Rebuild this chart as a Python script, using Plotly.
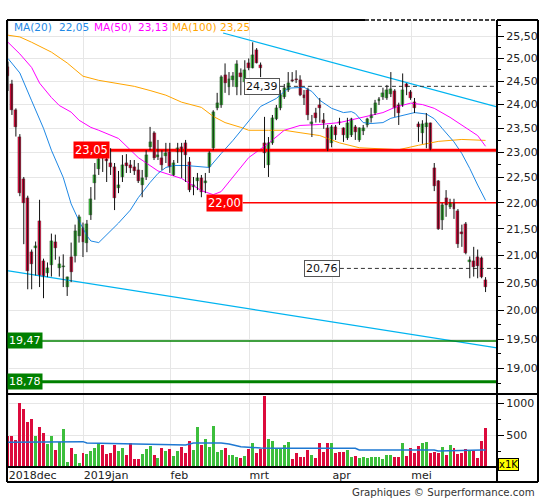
import math
import plotly.graph_objects as go

# ---------------- data ----------------
month_labels = ["2018dec", "2019jan", "feb", "mrt", "apr", "mei"]
month_first_idx = [1, 20, 42, 62, 83, 103]

opens = [24.82, 24.44, 23.88, 23.33, 22.47, 22.10, 21.06, 21.13, 21.65, 20.90,
         20.68, 20.83, 21.25, 20.76, 20.78, 20.42, 20.98, 20.99, 21.36, 21.52,
         21.24, 21.77, 22.39, 22.67, 22.95, 22.86, 22.79, 22.71, 22.29, 22.51,
         22.79, 22.75, 22.71, 22.65, 22.35, 22.51, 23.12, 23.40, 22.91, 22.89,
         22.93, 23.01, 22.55, 23.01, 23.11, 23.20, 22.81, 22.31, 22.43, 22.49,
         22.39, 22.71, 23.09, 23.93, 23.99, 24.63, 24.38, 24.53, 24.38, 24.67,
         24.48, 24.91, 24.80, 25.19, 24.85, 23.20, 22.75, 23.20, 23.69, 23.93,
         24.16, 24.31, 24.53, 24.54, 24.53, 24.20, 24.31, 23.60, 23.82, 23.99,
         23.67, 23.50, 23.20, 23.52, 23.64, 23.50, 23.30, 23.36, 23.52, 23.26,
         23.44, 23.57, 23.72, 23.82, 24.08, 24.16, 24.14, 24.22, 24.29, 23.99,
         23.99, 24.44, 24.27, 24.06, 23.59, 23.40, 23.52, 23.61, 22.69, 22.43,
         21.67, 22.10, 21.92, 22.00, 21.84, 21.43, 21.60, 20.87, 20.90, 20.98,
         20.96, 20.54]
highs = [24.93, 24.53, 23.92, 23.38, 22.51, 22.14, 21.11, 21.26, 22.06, 20.94,
         20.87, 21.41, 21.39, 20.98, 21.02, 20.61, 21.24, 21.58, 21.77, 21.62,
         21.67, 22.31, 22.79, 22.97, 23.16, 23.01, 23.09, 22.79, 22.63, 22.95,
         22.97, 22.85, 22.85, 22.79, 22.65, 23.05, 23.53, 23.44, 23.26, 23.05,
         23.20, 23.20, 22.85, 23.20, 23.20, 23.26, 22.91, 22.51, 22.59, 22.55,
         22.59, 23.03, 23.88, 24.25, 24.63, 24.89, 24.70, 24.70, 24.96, 24.78,
         24.96, 25.00, 25.36, 25.23, 24.91, 23.74, 23.32, 23.78, 23.99, 24.31,
         24.44, 24.70, 24.70, 24.74, 24.63, 24.31, 24.36, 23.78, 23.93, 24.14,
         23.82, 23.57, 23.57, 23.57, 23.72, 23.52, 23.72, 23.72, 23.57, 23.52,
         23.57, 23.72, 23.93, 24.10, 24.16, 24.36, 24.42, 24.70, 24.33, 24.04,
         24.67, 24.46, 24.31, 24.14, 23.64, 23.67, 23.82, 23.62, 22.79, 22.45,
         22.00, 22.25, 22.08, 22.08, 21.88, 21.58, 21.63, 20.98, 21.16, 21.11,
         20.98, 20.60]
lows = [24.29, 23.78, 23.33, 22.13, 21.21, 20.38, 20.38, 20.63, 20.42, 20.22,
        20.60, 20.61, 20.92, 20.61, 20.42, 20.26, 20.51, 20.87, 21.24, 20.97,
        21.06, 21.67, 22.06, 22.55, 22.61, 22.41, 22.55, 21.86, 22.19, 22.41,
        22.59, 22.59, 22.55, 22.39, 22.11, 22.45, 23.05, 22.85, 22.85, 22.65,
        22.79, 22.59, 22.53, 22.79, 22.49, 22.41, 22.21, 22.15, 22.25, 22.11,
        22.19, 22.59, 23.05, 23.88, 23.93, 24.25, 24.20, 24.38, 24.20, 24.20,
        24.25, 24.74, 24.78, 24.89, 24.59, 22.69, 22.51, 23.16, 23.67, 23.88,
        24.12, 24.27, 24.48, 24.46, 24.18, 23.99, 23.67, 23.32, 23.62, 23.62,
        23.49, 23.03, 23.11, 23.26, 23.57, 23.22, 23.26, 23.32, 23.26, 23.22,
        23.36, 23.52, 23.62, 23.78, 23.99, 24.10, 24.10, 24.16, 23.74, 23.57,
        23.95, 24.20, 24.10, 23.82, 23.22, 23.18, 23.09, 23.05, 22.23, 21.48,
        21.48, 21.73, 21.88, 21.69, 21.14, 21.16, 21.02, 20.58, 20.61, 20.58,
        20.58, 20.33]
closes = [24.62, 23.88, 23.52, 22.19, 22.00, 20.72, 20.85, 21.17, 20.63, 20.61,
          20.76, 21.27, 21.13, 20.85, 20.81, 20.60, 20.69, 21.46, 21.73, 21.25,
          21.60, 22.08, 22.55, 22.87, 22.89, 22.84, 22.71, 22.10, 22.35, 22.75,
          22.73, 22.69, 22.63, 22.43, 22.49, 22.95, 23.22, 22.89, 22.95, 22.75,
          22.99, 22.71, 22.79, 23.09, 23.01, 22.95, 22.25, 22.35, 22.49, 22.21,
          22.43, 22.99, 23.84, 24.04, 24.59, 24.46, 24.55, 24.61, 24.87, 24.59,
          24.74, 24.80, 25.07, 24.91, 24.80, 22.99, 23.20, 23.72, 23.93, 24.20,
          24.36, 24.46, 24.51, 24.52, 24.20, 24.14, 23.78, 23.64, 23.72, 23.93,
          23.62, 23.05, 23.52, 23.36, 23.61, 23.36, 23.62, 23.69, 23.42, 23.50,
          23.50, 23.69, 23.78, 24.04, 24.12, 24.25, 24.31, 24.33, 23.93, 23.82,
          24.31, 24.38, 24.14, 23.93, 23.52, 23.59, 23.62, 23.07, 22.33, 21.50,
          21.96, 21.96, 22.00, 21.88, 21.22, 21.41, 21.04, 20.92, 20.78, 20.80,
          20.61, 20.42]
volumes_k = [484, 484, 422, 1005, 906, 703, 750, 484, 625, 531,
             359, 484, 266, 396, 594, 78, 297, 203, 63, 219,
             203, 250, 297, 375, 344, 203, 219, 344, 250, 297,
             188, 375, 125, 125, 203, 281, 328, 188, 141, 297,
             250, 281, 172, 250, 313, 219, 406, 266, 625, 344,
             438, 313, 641, 234, 266, 297, 188, 188, 156, 141,
             172, 281, 375, 219, 281, 1109, 438, 406, 297, 297,
             344, 391, 125, 219, 156, 156, 266, 188, 141, 375,
             234, 375, 375, 219, 234, 234, 266, 156, 172, 141,
             156, 141, 156, 156, 156, 125, 188, 188, 156, 156,
             375, 172, 297, 219, 328, 375, 391, 219, 234, 219,
             313, 188, 344, 297, 203, 219, 281, 250, 250, 141,
             406, 609]

ma20_idx = [0, 3, 6, 9, 11, 14, 16, 18, 20, 21, 23, 24, 26, 28, 31, 33, 36, 38, 40, 42,
            45, 49, 51, 54, 57, 60, 64, 68, 71, 75, 77, 79, 82, 85, 87, 88, 90, 92, 95, 97,
            100, 103, 106, 108, 110, 113, 115, 117, 119, 121]
ma20_val = [25.00, 24.68, 24.08, 23.50, 23.05, 22.50, 21.98, 21.65, 21.37, 21.27,
            21.24, 21.31, 21.46, 21.61, 21.86, 22.10, 22.40, 22.58, 22.70, 22.74,
            22.74, 22.72, 22.70, 22.98, 23.25, 23.55, 23.96, 24.13, 24.35, 24.37,
            24.28, 24.09, 23.92, 23.83, 23.85, 23.81, 23.62, 23.60, 23.62, 23.71,
            23.77, 23.83, 23.80, 23.70, 23.50, 23.22, 22.98, 22.68, 22.35, 22.05]
ma50_idx = [0, 3, 6, 8, 11, 13, 16, 18, 21, 23, 28, 33, 38, 44, 49, 52, 54, 57, 61, 66,
            70, 74, 79, 84, 90, 95, 98, 102, 105, 108, 112, 116, 119, 121]
ma50_val = [25.36, 25.10, 24.80, 24.46, 24.15, 23.98, 23.84, 23.67, 23.52, 23.46,
            23.29, 22.90, 22.63, 22.48, 22.24, 22.16, 22.22, 22.50, 22.90, 23.19,
            23.46, 23.56, 23.58, 23.62, 23.73, 23.83, 23.94, 24.03, 24.00, 23.92,
            23.73, 23.52, 23.35, 23.13]
ma100_idx = [0, 3, 6, 11, 15, 19, 23, 32, 36, 40, 44, 49, 52, 55, 59, 61, 66, 70, 74, 79,
             84, 89, 94, 99, 104, 109, 115, 119, 121]
ma100_val = [25.52, 25.48, 25.36, 25.14, 24.90, 24.61, 24.52, 24.39, 24.30, 24.20,
             24.05, 23.94, 23.75, 23.62, 23.52, 23.46, 23.46, 23.46, 23.41, 23.35,
             23.20, 23.10, 23.08, 23.06, 23.15, 23.23, 23.27, 23.25, 23.25]
volma_idx = [0, 19, 20, 30, 45, 47, 54, 56, 59, 64, 69, 88, 89, 108, 109, 120, 121]
volma_val = [386, 396, 375, 359, 344, 375, 375, 359, 318, 297, 292, 292, 266, 266, 250, 266, 266]

trend_hi_idx = [54.5, 123.9]
trend_hi_val = [25.57, 23.95]
trend_lo_idx = [-0.25, 123.9]
trend_lo_val = [20.72, 19.35]

# horizontal levels: (value, start index, colour, width, dash, label style)
levels = [
    (23.05, 25.8, "#ff0000", 3, "solid", "red"),
    (22.00, 59.5, "#ff0000", 1.5, "solid", "red"),
    (24.39, 68.9, "#333333", 1, "dash", "box"),
    (20.76, 84.1, "#333333", 1, "dash", "box"),
    (19.47, 7.1, "#008000", 1.5, "solid", "green"),
    (18.78, 7.1, "#008000", 3, "solid", "green"),
]

price_ticks = [19.0, 19.5, 20.0, 20.5, 21.0, 21.5, 22.0, 22.5, 23.0, 23.5, 24.0, 24.5, 25.0, 25.5]
price_minor = [18.75, 19.25, 19.75, 20.25, 20.75, 21.25, 21.75, 22.25, 22.75, 23.25,
               23.75, 24.25, 24.75, 25.25, 25.75]
vol_ticks = [500, 1000]
vol_minor = [250, 750]

legend_items = [("MA(20)", "#1e88e5"), ("22,05", "#1e88e5"), ("MA(50)", "#ff00ff"),
                ("23,13", "#ff00ff"), ("MA(100)", "#ffa500"), ("23,25", "#ffa500")]
legend_px = [12, 57, 92, 136, 170, 218]

# ---------------- figure ----------------
RED = "#dc0a3c"
GREEN = "#3cbe3c"
X_MAX = 123.9
n = len(opens)
x_idx = list(range(n))

def comma(v):
    return f"{v:.2f}".replace(".", ",")

fig = go.Figure()

# trend lines
for xs, ys in [(trend_hi_idx, trend_hi_val), (trend_lo_idx, trend_lo_val)]:
    fig.add_trace(go.Scatter(x=xs, y=ys, mode="lines", line=dict(color="#00b4f0", width=1.2),
                             hoverinfo="skip", xaxis="x", yaxis="y"))

# moving averages
for xs, ys, col in [(ma100_idx, ma100_val, "#ffa500"), (ma50_idx, ma50_val, "#ff00ff"),
                    (ma20_idx, ma20_val, "#1e88e5")]:
    fig.add_trace(go.Scatter(x=xs, y=ys, mode="lines", line=dict(color=col, width=1),
                             hoverinfo="skip", xaxis="x", yaxis="y"))

# level lines
for val, start, col, w, dash, style in levels:
    fig.add_trace(go.Scatter(x=[start, X_MAX], y=[val, val], mode="lines",
                             line=dict(color=col, width=w, dash="4px,3px" if dash == "dash" else "solid"),
                             hoverinfo="skip", xaxis="x", yaxis="y"))

# candle wicks
wx, wy = [], []
for i in x_idx:
    wx += [i, i, None]
    wy += [lows[i], highs[i], None]
fig.add_trace(go.Scatter(x=wx, y=wy, mode="lines", line=dict(color="#111111", width=1),
                         hoverinfo="skip", xaxis="x", yaxis="y"))

# candle bodies
body_base = [min(o, c) for o, c in zip(opens, closes)]
body_len = [max(abs(c - o), 0.025) for o, c in zip(opens, closes)]
candle_colors = [GREEN if c >= o else RED for o, c in zip(opens, closes)]
fig.add_trace(go.Bar(x=x_idx, y=body_len, base=body_base, width=0.75,
                     marker=dict(color=candle_colors, line=dict(color="#333333", width=0.3)),
                     hoverinfo="skip", xaxis="x", yaxis="y"))

# volume
fig.add_trace(go.Bar(x=x_idx, y=volumes_k, marker=dict(color=candle_colors, line=dict(width=0)),
                     width=0.75, hoverinfo="skip", xaxis="x", yaxis="y2"))
fig.add_trace(go.Scatter(x=volma_idx, y=volma_val, mode="lines", line=dict(color="#1e78d2", width=1.5),
                         hoverinfo="skip", xaxis="x", yaxis="y2"))

# ---------------- annotations ----------------
ann = []
for val, start, col, w, dash, style in levels:
    if style == "red":
        ann.append(dict(x=start, y=math.log10(val), xref="x", yref="y", text=comma(val),
                        xanchor="right", yanchor="middle", showarrow=False,
                        bgcolor="#ff0000", font=dict(color="white", size=11.5), borderpad=1))
    elif style == "box":
        ann.append(dict(x=start, y=math.log10(val), xref="x", yref="y", text=comma(val),
                        xanchor="right", yanchor="middle", showarrow=False,
                        bgcolor="white", bordercolor="#555555", borderwidth=1,
                        font=dict(color="#111111", size=11), borderpad=1))
    else:
        ann.append(dict(x=0, y=math.log10(val), xref="paper", yref="y", text=comma(val),
                        xanchor="left", yanchor="middle", showarrow=False,
                        bgcolor="#008000", font=dict(color="white", size=11), borderpad=1))

def fx(px):
    return (px - 7) / 490.0

def fy(py):
    return (467 - py) / 447.0

for (txt, col), px in zip(legend_items, legend_px):
    ann.append(dict(x=fx(px), y=fy(27), xref="paper", yref="paper", text=txt, xanchor="left",
                    yanchor="middle", showarrow=False, font=dict(color=col, size=10.5)))

ann.append(dict(x=fx(498), y=fy(464), xref="paper", yref="paper", text="x1K", xanchor="left",
                yanchor="middle", showarrow=False, bgcolor="#ffff00", bordercolor="#000000",
                borderwidth=1, borderpad=0, font=dict(color="#000000", size=10)))
ann.append(dict(x=fx(537), y=fy(492), xref="paper", yref="paper",
                text="Graphiques © Surperformance.com", xanchor="right", yanchor="middle",
                showarrow=False, font=dict(color="#333333", size=10.2)))

# frame
ln = dict(color="#000000", width=2)
shapes = [
    dict(type="line", xref="paper", yref="paper", x0=0, x1=0, y0=fy(482), y1=1, line=ln),
    dict(type="line", xref="paper", yref="paper", x0=fx(538), x1=fx(538), y0=fy(482), y1=1, line=ln),
    dict(type="line", xref="paper", yref="paper", x0=0, x1=fx(538), y0=fy(482), y1=fy(482), line=ln),
    dict(type="line", xref="paper", yref="paper", x0=1, x1=1, y0=fy(482), y1=1, line=ln),
    dict(type="line", xref="paper", yref="paper", x0=0, x1=fx(538), y0=fy(394), y1=fy(394), line=ln),
    dict(type="line", xref="paper", yref="paper", x0=0, x1=1, y0=0, y1=0, line=ln),
    dict(type="line", xref="paper", yref="paper", x0=0, x1=fx(365), y0=1, y1=1, line=ln),
    dict(type="line", xref="paper", yref="paper", x0=fx(365), x1=1, y0=1, y1=1,
         line=dict(color="#000000", width=1.5, dash="4px,2px")),
    dict(type="line", xref="paper", yref="paper", x0=1, x1=fx(538), y0=1, y1=1, line=ln),
]

grid_x = [m - 0.8 for m in month_first_idx]

fig.update_layout(
    width=545, height=500, margin=dict(l=7, r=48, t=20, b=33),
    paper_bgcolor="white", plot_bgcolor="white", showlegend=False,
    font=dict(family="DejaVu Sans", size=11, color="#222222"),
    annotations=ann, shapes=shapes, bargap=0, barmode="overlay", hovermode=False,
    xaxis=dict(domain=[0, 1], anchor="y2", range=[-0.25, X_MAX], tickmode="array",
               tickvals=grid_x, ticktext=month_labels, ticklabelposition="outside right",
               ticks="", showgrid=True, gridcolor="#e6e6e6", gridwidth=1, zeroline=False,
               showline=False, fixedrange=True,
               tickfont=dict(size=11, color="#222222")),
    yaxis=dict(domain=[fy(394), 1], anchor="x", type="log", side="right",
               range=[math.log10(18.576), math.log10(25.865)], tickmode="array",
               tickvals=price_ticks, ticktext=[comma(v) for v in price_ticks],
               ticks="outside", ticklen=6, tickcolor="#000000", tickwidth=1,
               showgrid=True, gridcolor="#e6e6e6", zeroline=False, showline=False,
               minor=dict(tickmode="array", tickvals=price_minor, ticks="outside", ticklen=3,
                          tickcolor="#000000", showgrid=False),
               tickfont=dict(size=11, color="#222222")),
    yaxis2=dict(domain=[0, fy(394)], anchor="x", side="right", range=[0, 1141],
                tickmode="array", tickvals=vol_ticks, ticktext=[str(v) for v in vol_ticks],
                ticks="outside", ticklen=6, tickcolor="#000000", showgrid=True,
                gridcolor="#e6e6e6", zeroline=False, showline=False,
                minor=dict(tickmode="array", tickvals=vol_minor, ticks="outside", ticklen=3,
                           tickcolor="#000000", showgrid=False),
                tickfont=dict(size=11, color="#222222")),
)

fig.write_html("out.html", config={"displayModeBar": False},
               post_script="document.body.style.margin='0px';")
